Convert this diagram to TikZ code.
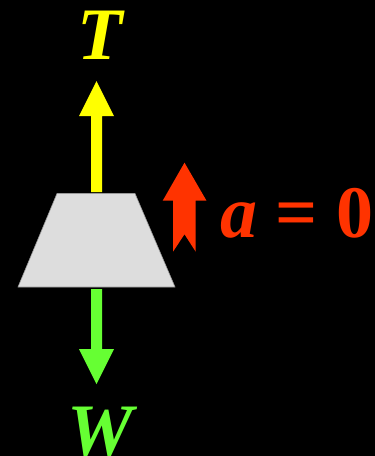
\documentclass[tikz,border=0pt]{standalone}
\usepackage{fontspec}
\setmainfont{Liberation Serif}
\begin{document}
\begin{tikzpicture}[x=1pt,y=-1pt,
  lbl/.style={inner sep=0pt,anchor=base,font=\fontsize{74}{74}\selectfont\bfseries\itshape}]
\definecolor{tyel}{HTML}{FFFF00}
\definecolor{wgrn}{HTML}{66FF33}
\definecolor{ared}{HTML}{FF3300}
\definecolor{body}{HTML}{DDDDDD}
\fill[black] (0,0) rectangle (375,456);
\useasboundingbox (0,0) rectangle (375,456);
% body
\filldraw[fill=body,draw=gray!80,line width=0.6pt] (57,193.5) -- (135,193.5) -- (175,287) -- (18,287) -- cycle;
% tension arrow
\fill[tyel] (91,192) -- (91,116) -- (79,116) -- (96.5,81) -- (114,116) -- (102,116) -- (102,192) -- cycle;
% weight arrow
\fill[wgrn] (91,289) -- (91,349) -- (79,349) -- (96.5,384) -- (114,349) -- (102,349) -- (102,289) -- cycle;
% acceleration arrow
\fill[ared] (173,251.7) -- (173,200.7) -- (162.7,200.7) -- (184.5,162.7) -- (206.5,200.7) -- (195.7,200.7) -- (195.7,251.7) -- (184.5,234.3) -- cycle;
\node[lbl,text=tyel] (T) at (100,59) {T};
\node[lbl,text=wgrn] (W) at (100,455) {W};
\node[lbl,anchor=base west,text=ared] (a) at (220,237) {a \upshape= 0};
\end{tikzpicture}
\end{document}
